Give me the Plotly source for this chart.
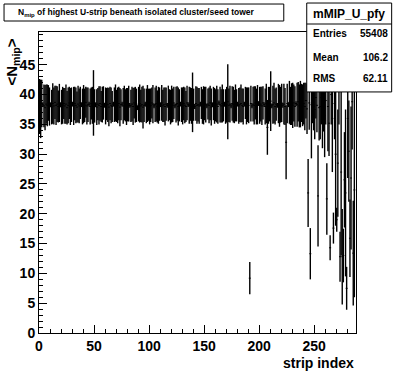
import plotly.graph_objects as go

# ---------------- data ----------------
strip_index = list(range(288))

mean_nmip = [
    38.0, 37.6, 38.5, 38.3, 38.1, 37.8, 38.4, 38.2, 38.6, 38.0, 38.3, 37.9, 38.5, 38.1, 38.7, 38.2,
    38.4, 38.0, 38.6, 38.3, 37.9, 38.2, 38.5, 38.1, 38.4, 37.8, 38.2, 38.6, 38.0, 38.3, 38.4, 38.1,
    38.5, 38.2, 37.9, 38.4, 38.1, 38.6, 38.3, 38.0, 38.4, 38.2, 38.7, 38.1, 38.3, 38.4, 38.0, 38.5,
    38.2, 38.6, 38.1, 38.3, 37.9, 38.4, 38.2, 38.5, 38.0, 38.3, 38.6, 38.2, 38.1, 38.4, 38.3, 37.9,
    38.5, 38.2, 38.0, 38.4, 38.3, 38.6, 38.1, 38.2, 38.5, 37.9, 38.3, 38.4, 38.1, 38.6, 38.2, 38.0,
    38.3, 38.5, 38.2, 38.1, 38.4, 38.0, 38.6, 38.3, 38.2, 37.8, 38.4, 38.5, 38.1, 38.3, 37.9, 38.2,
    38.4, 38.1, 38.5, 38.3, 38.0, 38.2, 38.6, 38.4, 38.1, 38.3, 38.5, 38.0, 38.2, 38.4, 38.3, 38.6,
    38.1, 38.3, 38.0, 38.4, 38.2, 38.5, 38.3, 37.9, 38.4, 38.2, 38.6, 38.1, 38.3, 38.5, 38.0, 38.2,
    38.4, 38.3, 38.1, 38.5, 38.2, 38.0, 38.6, 38.3, 38.2, 38.4, 38.1, 38.7, 38.3, 38.0, 38.5, 38.2,
    38.3, 38.1, 38.4, 38.6, 38.0, 38.2, 38.5, 38.3, 38.1, 38.4, 38.2, 38.6, 37.9, 38.3, 38.5, 38.1,
    38.2, 38.4, 38.0, 38.6, 38.3, 38.1, 38.5, 38.2, 38.4, 38.0, 38.3, 38.8, 38.2, 38.4, 38.1, 38.5,
    38.3, 38.0, 38.6, 38.2, 38.4, 38.1, 38.3, 38.5, 38.2, 38.0, 38.4, 38.6, 38.1, 38.3, 38.2, 9.2,
    38.5, 38.1, 38.4, 38.2, 38.6, 38.0, 38.3, 38.5, 38.2, 38.4, 38.1, 38.6, 38.3, 38.0, 38.5, 34.5,
    38.2, 38.4, 38.9, 38.1, 38.3, 38.6, 38.0, 38.4, 38.2, 38.5, 38.1, 38.3, 38.6, 38.2, 38.4, 38.0,
    32.0, 38.5, 38.3, 38.7, 38.1, 38.4, 38.2, 38.6, 38.0, 38.5, 38.3, 38.8, 38.1, 38.4, 38.6, 38.2,
    38.5, 38.0, 39.0, 37.6, 23.5, 38.6, 13.3, 38.3, 39.0, 38.0, 37.5, 39.5, 38.2, 23.0, 37.8, 38.0,
    39.5, 37.0, 38.8, 36.5, 39.0, 22.5, 38.0, 35.2, 14.3, 40.0, 36.0, 17.6, 38.5, 30.0, 19.0, 28.5,
    41.0, 12.8, 27.0, 12.8, 13.0, 25.7, 23.5, 7.5, 36.0, 30.5, 15.9, 26.0, 38.8, 13.4, 24.0, None,
]

err_nmip = [
    4.6, 4.9, 4.0, 0.4, 3.6, 3.8, 3.3, 3.5, 3.0, 3.2, 0.4, 2.9, 3.4, 3.1, 2.8, 3.3,
    3.0, 2.7, 3.2, 0.4, 2.9, 3.1, 2.6, 3.0, 3.3, 2.8, 3.0, 2.7, 3.1, 2.9, 0.4, 3.2,
    2.8, 3.0, 2.6, 3.1, 2.9, 2.7, 0.4, 3.0, 3.2, 2.8, 2.6, 3.1, 2.9, 0.4, 3.0, 2.7,
    3.1, 5.5, 2.8, 0.4, 3.0, 2.7, 3.2, 2.9, 2.6, 3.0, 2.8, 0.4, 3.1, 2.7, 2.9, 3.2,
    2.8, 3.0, 2.6, 0.4, 2.9, 3.1, 2.7, 3.0, 2.8, 3.2, 2.6, 0.4, 3.0, 2.9, 2.7, 3.1,
    2.8, 3.0, 0.4, 2.7, 2.9, 3.1, 2.6, 3.0, 2.8, 0.4, 2.9, 3.2, 2.7, 3.0, 3.6, 2.8,
    0.4, 2.9, 3.1, 2.7, 3.0, 2.8, 2.6, 3.2, 0.4, 2.9, 3.0, 2.7, 3.1, 2.8, 0.4, 3.0,
    2.7, 2.9, 3.2, 2.8, 0.4, 3.0, 2.6, 2.9, 3.1, 2.8, 2.7, 0.4, 3.0, 2.9, 3.2, 2.7,
    0.4, 2.9, 3.1, 2.8, 3.0, 2.6, 2.9, 0.4, 3.1, 2.8, 3.0, 5.0, 2.7, 0.4, 2.9, 3.1,
    2.8, 3.0, 0.4, 2.7, 2.9, 3.2, 2.8, 3.0, 0.4, 2.6, 3.0, 2.9, 3.1, 0.4, 2.8, 3.0,
    2.7, 3.1, 2.9, 0.4, 3.0, 2.8, 3.2, 2.7, 0.4, 2.9, 3.0, 6.3, 2.8, 3.1, 0.4, 2.9,
    3.0, 2.8, 3.1, 2.7, 0.4, 3.0, 2.9, 3.2, 2.8, 3.0, 0.4, 2.7, 3.1, 2.9, 3.0, 2.7,
    3.0, 0.4, 2.9, 3.2, 2.8, 3.0, 3.3, 0.4, 3.1, 2.9, 3.2, 2.8, 0.4, 3.0, 3.3, 4.6,
    3.1, 2.9, 5.0, 0.4, 3.2, 3.4, 3.0, 2.8, 0.4, 3.3, 3.5, 3.0, 3.2, 0.4, 3.4, 3.1,
    6.2, 3.3, 0.4, 3.6, 3.2, 3.5, 3.8, 3.1, 3.4, 0.4, 3.7, 3.3, 3.6, 3.9, 3.2, 3.5,
    3.5, 4.0, 3.0, 4.2, 5.7, 4.5, 4.3, 9.0, 3.8, 4.0, 5.0, 3.5, 4.5, 8.5, 5.5, 5.5,
    4.5, 6.0, 5.0, 7.0, 4.0, 6.0, 7.5, 5.5, 2.1, 5.0, 9.0, 2.6, 6.0, 12.0, 2.0, 9.0,
    6.0, 4.2, 14.0, 8.0, 4.5, 8.0, 14.0, 3.6, 10.0, 8.5, 6.5, 12.0, 8.0, 8.8, 18.0, None,
]

x_tick_values = [0, 50, 100, 150, 200, 250]
y_tick_values = [0, 5, 10, 15, 20, 25, 30, 35, 40, 45]

hist_title = "N<sub>mip</sub> of highest U-strip beneath isolated cluster/seed tower"
hist_name = "mMIP_U_pfy"
stat_labels = ["Entries", "Mean", "RMS"]
stat_values = ["55408", "106.2", "62.11"]
x_title = "strip index"
y_title = "&lt;N<sub>mip</sub>&gt;"

# ---------------- layout geometry (pixels) ----------------
W, H = 396, 372
L, R, T, B = 39, 356.3, 32, 333.3
pw, ph = R - L, B - T


def px(xp):
    return (xp - L) / pw


def py(yp):
    return (B - yp) / ph


FONT = "Liberation Sans, Arial, Helvetica, sans-serif"

xs = [s + 0.5 for s in strip_index]

fig = go.Figure()
fig.add_trace(go.Scatter(
    x=xs, y=mean_nmip,
    mode="markers",
    marker=dict(size=1, color="black", opacity=0),
    error_y=dict(type="data", array=err_nmip, visible=True, color="black", thickness=1.4, width=0),
    error_x=dict(type="constant", value=0.9, visible=True, color="black", thickness=1, width=0),
    showlegend=False, hoverinfo="x+y",
))

fig.update_layout(
    width=W, height=H,
    margin=dict(l=L, r=W - R, t=T, b=H - B, pad=0),
    paper_bgcolor="white", plot_bgcolor="white",
    font=dict(family=FONT, color="black"),
    showlegend=False,
)

axis_common = dict(
    showgrid=False, zeroline=False, showline=True, linecolor="black", linewidth=1,
    mirror=True, ticks="inside", tickcolor="black", tickwidth=1,
    tickfont=dict(family=FONT, size=14, color="black", weight="bold"),
)
fig.update_xaxes(
    range=[0, 288], tickmode="array", tickvals=x_tick_values, ticklen=8,
    minor=dict(ticks="inside", dtick=10, ticklen=4, tickcolor="black", tickwidth=1),
    **axis_common,
)
fig.update_yaxes(
    range=[0, 50.5], tickmode="array", tickvals=y_tick_values, ticklen=8,
    minor=dict(ticks="inside", dtick=1, ticklen=4, tickcolor="black", tickwidth=1),
    **axis_common,
)

shapes = []
annotations = []

# title box
shapes.append(dict(type="rect", xref="paper", yref="paper",
                   x0=px(4), x1=px(284), y0=py(21), y1=py(4),
                   line=dict(color="black", width=1), fillcolor="white", layer="above"))
annotations.append(dict(xref="paper", yref="paper", x=px(16), y=py(12.5),
                        xanchor="left", yanchor="middle", showarrow=False,
                        text=hist_title,
                        font=dict(family=FONT, size=8.5, color="black", weight="bold")))

# stats box
shapes.append(dict(type="rect", xref="paper", yref="paper",
                   x0=px(307), x1=px(392), y0=py(92), y1=py(3),
                   line=dict(color="black", width=1), fillcolor="white", layer="above"))
shapes.append(dict(type="line", xref="paper", yref="paper",
                   x0=px(307), x1=px(392), y0=py(24), y1=py(24),
                   line=dict(color="black", width=1), layer="above"))
annotations.append(dict(xref="paper", yref="paper", x=px(349.5), y=py(14),
                        xanchor="center", yanchor="middle", showarrow=False,
                        text=hist_name,
                        font=dict(family=FONT, size=12, color="black", weight="bold")))
stat_rows_y = [34, 58, 79]
for lab, val, yy in zip(stat_labels, stat_values, stat_rows_y):
    annotations.append(dict(xref="paper", yref="paper", x=px(311), y=py(yy),
                            xanchor="left", yanchor="middle", showarrow=False, text=lab,
                            font=dict(family=FONT, size=10, color="black", weight="bold")))
    annotations.append(dict(xref="paper", yref="paper", x=px(390), y=py(yy),
                            xanchor="right", yanchor="middle", showarrow=False, text=val,
                            font=dict(family=FONT, size=10, color="black", weight="bold")))

# axis titles
annotations.append(dict(xref="paper", yref="paper", x=px(356), y=py(363),
                        xanchor="right", yanchor="middle", showarrow=False, text=x_title,
                        font=dict(family=FONT, size=14, color="black", weight="bold")))
annotations.append(dict(xref="paper", yref="paper", x=px(12), y=py(37),
                        xanchor="center", yanchor="top", showarrow=False, text=y_title,
                        textangle=-90,
                        font=dict(family=FONT, size=15, color="black", weight="bold")))

fig.update_layout(shapes=shapes, annotations=annotations)

fig.write_html(
    "out.html",
    config={"displayModeBar": False},
    post_script="document.body.style.margin='0';document.body.style.padding='0';",
)
